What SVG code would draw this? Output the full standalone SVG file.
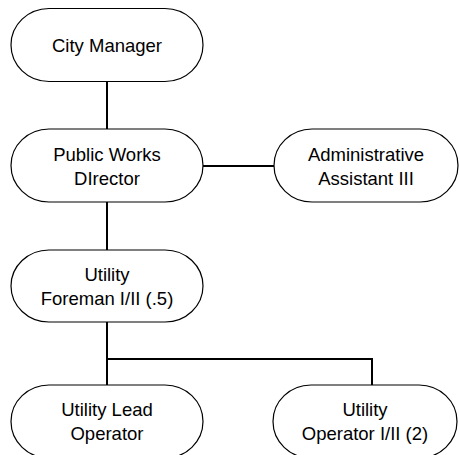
<svg xmlns="http://www.w3.org/2000/svg" width="459" height="455" viewBox="0 0 459 455">
<style>
.box{fill:#fff;stroke:#000;stroke-width:1.2}
.lbl{font-family:"Liberation Sans",Arial,sans-serif;font-size:18.5px;fill:#000;text-anchor:middle}
.conn{stroke:#000;stroke-width:2;fill:none}
</style>
<rect width="459" height="455" fill="#fff"/>
<g id="connectors">
<path class="conn" d="M107 82V129"/>
<path class="conn" d="M203 166H274"/>
<path class="conn" d="M107 202V250"/>
<path class="conn" d="M107 322V385"/>
<path class="conn" d="M107 359H372V385"/>
</g>
<g id="city-manager">
<rect class="box" x="11" y="8.5" width="192" height="73" rx="38" ry="36.5"/>
<text class="lbl" x="107" y="52">City Manager</text>
</g>
<g id="public-works-director">
<rect class="box" x="11" y="129" width="192" height="73" rx="38" ry="36.5"/>
<text class="lbl" x="107" y="160.5">Public Works</text>
<text class="lbl" x="107" y="184.5">DIrector</text>
</g>
<g id="administrative-assistant">
<rect class="box" x="274" y="129" width="184" height="73" rx="38" ry="36.5"/>
<text class="lbl" x="366" y="160.5">Administrative</text>
<text class="lbl" x="366" y="184.5">Assistant III</text>
</g>
<g id="utility-foreman">
<rect class="box" x="11" y="250" width="192" height="72" rx="38" ry="36"/>
<text class="lbl" x="107" y="280.5">Utility</text>
<text class="lbl" x="107" y="304.5">Foreman I/II (.5)</text>
</g>
<g id="utility-lead-operator">
<rect class="box" x="11" y="385" width="192" height="73" rx="38" ry="36.5"/>
<text class="lbl" x="107" y="416">Utility Lead</text>
<text class="lbl" x="107" y="440">Operator</text>
</g>
<g id="utility-operator">
<rect class="box" x="273" y="385" width="184" height="73" rx="38" ry="36.5"/>
<text class="lbl" x="365" y="416">Utility</text>
<text class="lbl" x="365" y="440">Operator I/II (2)</text>
</g>
</svg>
